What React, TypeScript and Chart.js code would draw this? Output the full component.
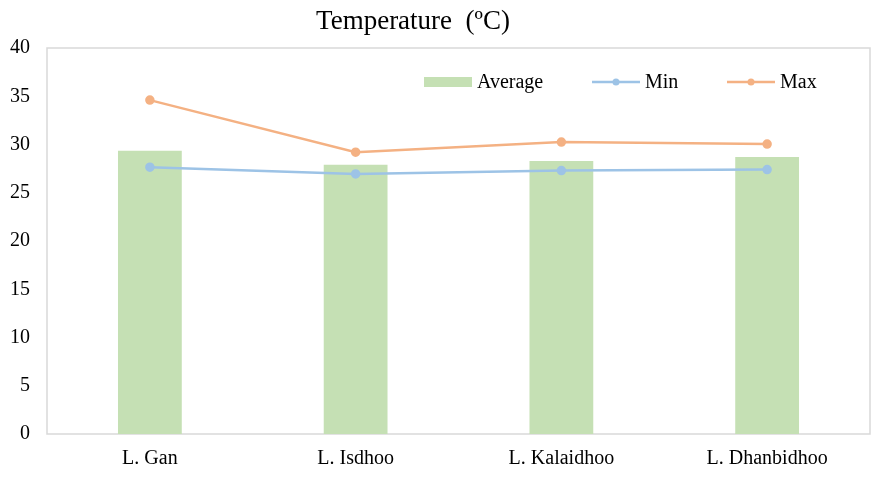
import React, { useEffect, useRef } from "react";
import { Chart, registerables } from "chart.js";

Chart.register(...registerables);

const categories = ["L. Gan", "L. Isdhoo", "L. Kalaidhoo", "L. Dhanbidhoo"];
const averageValues = [29.35, 27.9, 28.3, 28.7];
const minValues = [27.65, 26.95, 27.3, 27.4];
const maxValues = [34.6, 29.2, 30.25, 30.05];
const titleText = "Temperature  (ºC)";
const legendLabels = ["Average", "Min", "Max"];

const FONT = "'Liberation Serif', 'Times New Roman', serif";
const GREEN = "#c5e0b4";
const BLUE = "#9dc3e6";
const ORANGE = "#f4b183";

const overlayPlugin = {
  id: "overlay",
  beforeDatasetsDraw(chart: any) {
    const { ctx, chartArea: a } = chart;
    ctx.save();
    ctx.strokeStyle = "#d9d9d9";
    ctx.lineWidth = 1.5;
    ctx.strokeRect(a.left, a.top, a.right - a.left, a.bottom - a.top);
    ctx.restore();
  },
  afterDraw(chart: any) {
    const { ctx } = chart;
    ctx.save();
    // title
    ctx.fillStyle = "#000";
    ctx.font = `27px ${FONT}`;
    ctx.textAlign = "center";
    ctx.textBaseline = "alphabetic";
    ctx.fillText(titleText, 413, 29);
    // legend
    const ly = 82;
    ctx.font = `20px ${FONT}`;
    ctx.textAlign = "left";
    ctx.textBaseline = "middle";
    ctx.fillStyle = GREEN;
    ctx.fillRect(424, ly - 5, 48, 10);
    ctx.fillStyle = "#000";
    ctx.fillText(legendLabels[0], 477, ly + 1);
    const lineItem = (x0: number, color: string, label: string) => {
      ctx.strokeStyle = color;
      ctx.lineWidth = 2.5;
      ctx.beginPath();
      ctx.moveTo(x0, ly);
      ctx.lineTo(x0 + 48, ly);
      ctx.stroke();
      ctx.fillStyle = color;
      ctx.beginPath();
      ctx.arc(x0 + 24, ly, 3.5, 0, Math.PI * 2);
      ctx.fill();
      ctx.fillStyle = "#000";
      ctx.fillText(label, x0 + 53, ly + 1);
    };
    lineItem(592, BLUE, legendLabels[1]);
    lineItem(727, ORANGE, legendLabels[2]);
    ctx.restore();
  },
};

export default function App() {
  const ref = useRef<HTMLCanvasElement>(null);
  useEffect(() => {
    if (!ref.current) return;
    const chart = new Chart(ref.current, {
      type: "bar",
      data: {
        labels: categories,
        datasets: [
          {
            type: "line",
            label: legendLabels[1],
            data: minValues,
            borderColor: BLUE,
            backgroundColor: BLUE,
            borderWidth: 2.5,
            pointRadius: 3.5,
            order: 1,
          },
          {
            type: "line",
            label: legendLabels[2],
            data: maxValues,
            borderColor: ORANGE,
            backgroundColor: ORANGE,
            borderWidth: 2.5,
            pointRadius: 3.5,
            order: 0,
          },
          {
            type: "bar",
            label: legendLabels[0],
            data: averageValues,
            backgroundColor: GREEN,
            barPercentage: 0.31,
            categoryPercentage: 1,
            order: 2,
          },
        ],
      },
      options: {
        animation: false,
        responsive: false,
        layout: { padding: { top: 48, right: 7, left: 0, bottom: 0 } },
        plugins: { legend: { display: false }, title: { display: false }, tooltip: { enabled: false } },
        scales: {
          x: {
            grid: { display: false, drawTicks: false },
            border: { display: false },
            ticks: { color: "#000", font: { family: FONT, size: 20 }, padding: 13 },
            afterFit: (s: any) => { s.height = 46; },
          },
          y: {
            min: 0,
            max: 40,
            grid: { display: false, drawTicks: false },
            border: { display: false },
            ticks: { stepSize: 5, color: "#000", font: { family: FONT, size: 20 }, padding: 17 },
            afterFit: (s: any) => { s.width = 47; },
          },
        },
      },
      plugins: [overlayPlugin],
    });
    return () => chart.destroy();
  }, []);
  return (
    <div style={{ position: "fixed", left: 0, top: 0, width: 877, height: 480, background: "#fff" }}>
      <canvas ref={ref} width={877} height={480} />
    </div>
  );
}
